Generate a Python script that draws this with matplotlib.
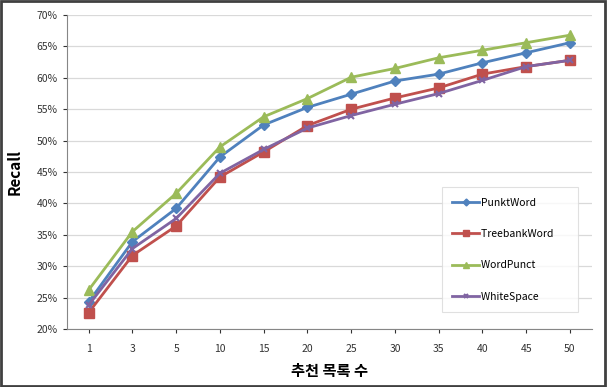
import matplotlib.pyplot as plt
from matplotlib.patches import Rectangle
from matplotlib.ticker import PercentFormatter

plt.rcParams['font.family'] = ['Noto Sans CJK KR', 'DejaVu Sans']

# 데이터
categories = ['1', '3', '5', '10', '15', '20', '25', '30', '35', '40', '45', '50']
punkt = [24.3, 33.9, 39.2, 47.4, 52.5, 55.3, 57.4, 59.5, 60.6, 62.4, 64.0, 65.6]
treebank = [22.6, 31.7, 36.4, 44.2, 48.2, 52.4, 55.0, 56.8, 58.4, 60.6, 61.8, 62.8]
wordpunct = [26.2, 35.5, 41.6, 49.0, 53.8, 56.7, 60.1, 61.5, 63.2, 64.4, 65.6, 66.8]
whitespace = [23.8, 32.8, 37.6, 44.8, 48.6, 52.0, 54.0, 55.8, 57.5, 59.6, 61.8, 62.8]

fig = plt.figure(figsize=(6.07, 3.87), dpi=100)
ax = fig.add_axes([0.110, 0.150, 0.865, 0.811])

x = range(len(categories))
ax.plot(x, punkt, color='#4F81BD', marker='D', markersize=5, lw=2.0, label='PunktWord')
ax.plot(x, treebank, color='#C0504D', marker='s', markersize=7, lw=2.0, label='TreebankWord')
ax.plot(x, wordpunct, color='#9BBB59', marker='^', markersize=7, lw=2.0, label='WordPunct')
ax.plot(x, whitespace, color='#8064A2', marker='x', markersize=5, mew=1.5, lw=2.0, label='WhiteSpace')

ax.set_xlim(-0.5, len(categories) - 0.5)
ax.set_ylim(20, 70)
ax.set_yticks(range(20, 71, 5))
ax.yaxis.set_major_formatter(PercentFormatter(decimals=0))
ax.set_xticks(list(x))
ax.set_xticklabels(categories)
ax.tick_params(labelsize=7.5, colors='#333333', length=3)
ax.tick_params(axis='x', pad=8)
ax.grid(axis='y', color='#D9D9D9', lw=0.9)
ax.set_axisbelow(True)
for s in ['top', 'right']:
    ax.spines[s].set_visible(False)
for s in ['left', 'bottom']:
    ax.spines[s].set_color('#868686')

ax.set_ylabel('Recall', fontsize=11, fontweight='bold', labelpad=10)
ax.set_xlabel('추천 목록 수', fontsize=11, fontweight='bold', labelpad=6)

leg = ax.legend(loc='lower right', bbox_to_anchor=(0.973, 0.054), fontsize=7.5,
                frameon=True, fancybox=False, labelspacing=2.05, handlelength=2.6,
                handletextpad=0.15, borderpad=1.0, borderaxespad=0, markerscale=0.7)
leg.get_frame().set_edgecolor('#D9D9D9')
leg.get_frame().set_linewidth(0.8)
# 범례 상자를 오른쪽으로 넓힘
for t in leg.get_texts():
    t.set_text(t.get_text() + '      ')

# 바깥 테두리
fig.patches.append(Rectangle((0.002, 0.003), 0.994, 0.994, transform=fig.transFigure,
                             fill=False, edgecolor='#404040', lw=2.0))

plt.savefig('out.png', dpi=100)
